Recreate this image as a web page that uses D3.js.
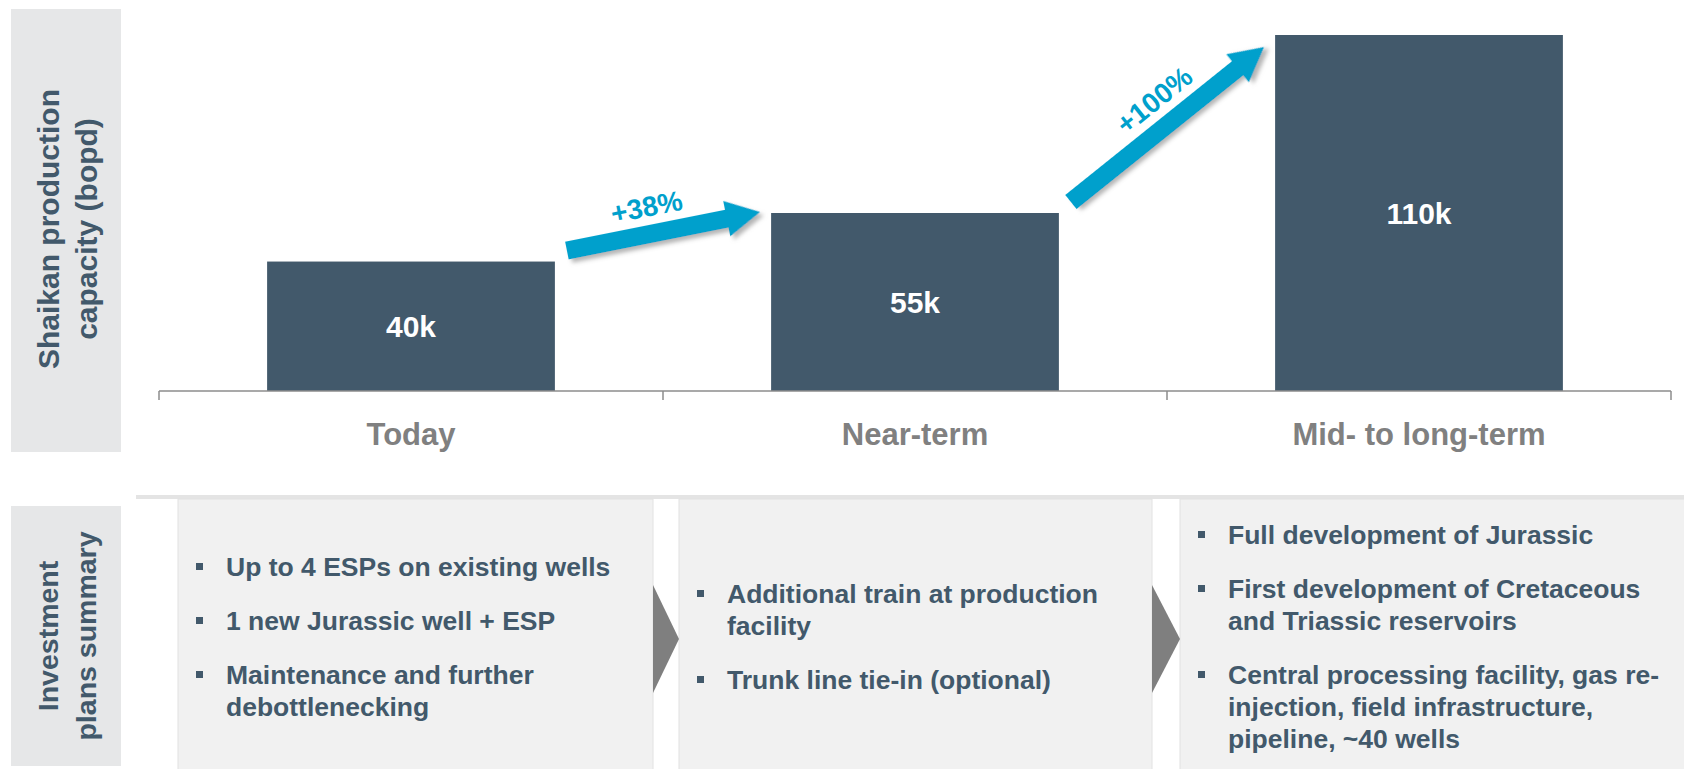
<!DOCTYPE html>
<html>
<head>
<meta charset="utf-8">
<style>
  body { margin: 0; background: #fff; }
  svg { display: block; font-family: "Liberation Sans", Arial, sans-serif; font-weight: bold; }
</style>
</head>
<body>
<svg width="1684" height="769"></svg>
<script src="https://cdn.jsdelivr.net/npm/d3@7"></script>
<script>
// chart values
const categories = ['Today', 'Near-term', 'Mid- to long-term'];
const capacity = [40, 55, 110];
const capacityLabels = ['40k', '55k', '110k'];
const growthLabels = ['+38%', '+100%'];
const yTitle = ['Shaikan production', 'capacity (bopd)'];
const planTitle = ['Investment', 'plans summary'];
const plans = [
  [['Up to 4 ESPs on existing wells'], ['1 new Jurassic well + ESP'], ['Maintenance and further', 'debottlenecking']],
  [['Additional train at production', 'facility'], ['Trunk line tie-in (optional)']],
  [['Full development of Jurassic'], ['First development of Cretaceous', 'and Triassic reservoirs'],
   ['Central processing facility, gas re-', 'injection, field infrastructure,', 'pipeline, ~40 wells']]
];

const barColor = '#42596b';
const arrowColor = '#00a0cc';
const panelGray = '#e6e7e8';

const svg = d3.select('svg');

// shadow for the growth arrows
const defs = svg.append('defs');
defs.append('filter').attr('id', 'shadow')
  .attr('x', '-20%').attr('y', '-50%').attr('width', '140%').attr('height', '200%')
  .append('feDropShadow')
  .attr('dx', 3).attr('dy', 4).attr('stdDeviation', 2)
  .attr('flood-color', '#777').attr('flood-opacity', 0.55);

// scales
const x = d3.scaleBand().domain(categories).range([159, 1671]).padding(0);
const y = d3.scaleLinear().domain([0, 110]).range([391, 35]);
const barW = x.bandwidth() * 0.571;
const barX = d => x(d) + (x.bandwidth() - barW) / 2;

// left title panels
svg.append('rect').attr('x', 11).attr('y', 9).attr('width', 110).attr('height', 443).attr('fill', panelGray);
svg.append('rect').attr('x', 11).attr('y', 506).attr('width', 110).attr('height', 260).attr('fill', panelGray);

function sideTitle(lines, cy, size) {
  svg.append('g').selectAll('text').data(lines).enter().append('text')
    .attr('transform', (d, i) => 'translate(' + (48 + i * 38) + ',' + cy + ') rotate(-90)')
    .attr('text-anchor', 'middle')
    .attr('dominant-baseline', 'central')
    .attr('font-size', size)
    .attr('fill', barColor)
    .text(d => d);
}
sideTitle(yTitle, 229, 30);
sideTitle(planTitle, 636, 28.5);

// bars
const chart = svg.append('g');
chart.selectAll('.bar').data(capacity).enter().append('rect')
  .attr('class', 'bar')
  .attr('x', (d, i) => barX(categories[i]))
  .attr('y', d => y(d))
  .attr('width', barW)
  .attr('height', d => y(0) - y(d))
  .attr('fill', barColor);

chart.selectAll('.val').data(capacity).enter().append('text')
  .attr('class', 'val')
  .attr('x', (d, i) => x(categories[i]) + x.bandwidth() / 2)
  .attr('y', d => (y(d) + y(0)) / 2)
  .attr('dy', '0.36em')
  .attr('text-anchor', 'middle')
  .attr('font-size', 30)
  .attr('fill', '#fff')
  .text((d, i) => capacityLabels[i]);

// x axis with ticks at band edges
const axisG = svg.append('g').attr('stroke', '#8c8c8c').attr('stroke-width', 1.5);
axisG.append('line').attr('x1', 159).attr('x2', 1671).attr('y1', y(0)).attr('y2', y(0));
const edges = categories.map(c => x(c)).concat([x(categories[categories.length - 1]) + x.bandwidth()]);
axisG.selectAll('.tick').data(edges).enter().append('line')
  .attr('x1', d => d).attr('x2', d => d)
  .attr('y1', y(0)).attr('y2', y(0) + 9);

svg.append('g').selectAll('text').data(categories).enter().append('text')
  .attr('x', d => x(d) + x.bandwidth() / 2)
  .attr('y', 445)
  .attr('text-anchor', 'middle')
  .attr('font-size', 31)
  .attr('fill', '#808080')
  .text(d => d);

// growth arrows between bars
const tipDy = [-1, 12];
const labelPos = [0.44, 0.52];
growthLabels.forEach((lab, i) => {
  const x0 = barX(categories[i]) + barW + 12;
  const y0 = y(capacity[i]) - 11;
  const x1 = barX(categories[i + 1]) - 11;
  const y1 = y(capacity[i + 1]) + tipDy[i];
  const len = Math.hypot(x1 - x0, y1 - y0);
  const ang = Math.atan2(y1 - y0, x1 - x0) * 180 / Math.PI;
  const g = svg.append('g').attr('transform', 'translate(' + x0 + ',' + y0 + ') rotate(' + ang + ')');
  const hw = 9, hh = 18, hl = 34;
  g.append('polygon')
    .attr('points', [[0, -hw], [len - hl, -hw], [len - hl, -hh], [len, 0], [len - hl, hh], [len - hl, hw], [0, hw]].join(' '))
    .attr('fill', arrowColor)
    .attr('filter', 'url(#shadow)');
  g.append('text')
    .attr('x', len * labelPos[i])
    .attr('y', -27)
    .attr('text-anchor', 'middle')
    .attr('dominant-baseline', 'central')
    .attr('font-size', 28)
    .attr('fill', arrowColor)
    .text(lab);
});

// investment plans section
svg.append('rect').attr('x', 136).attr('y', 495).attr('width', 1548).attr('height', 4).attr('fill', '#e4e4e4');

const boxX = [178, 679, 1180];
const boxR = [653, 1152, 1690];
const boxTop = 499, boxBottom = 775;
const lineH = 32, gap = 22, textCy = 637;

plans.forEach((items, b) => {
  svg.append('rect')
    .attr('x', boxX[b]).attr('y', boxTop)
    .attr('width', boxR[b] - boxX[b]).attr('height', boxBottom - boxTop)
    .attr('fill', '#f1f1f1').attr('stroke', '#e2e2e2');

  // total height of text block, centered in box
  const nLines = d3.sum(items, d => d.length);
  const total = (nLines - 1) * lineH + (items.length - 1) * gap;
  let cy = textCy - total / 2;
  const g = svg.append('g');
  items.forEach(lines => {
    g.append('rect')
      .attr('x', boxX[b] + 18).attr('y', cy - 4)
      .attr('width', 7).attr('height', 7)
      .attr('fill', barColor);
    lines.forEach((ln, k) => {
      g.append('text')
        .attr('x', boxX[b] + 48)
        .attr('y', cy + k * lineH)
        .attr('dy', '0.35em')
        .attr('font-size', 26.5)
        .attr('fill', barColor)
        .text(ln);
    });
    cy += lines.length * lineH + gap;
  });
});

// chevrons between plan boxes
[0, 1].forEach(i => {
  const xa = boxR[i], xb = boxX[i + 1];
  svg.append('polygon')
    .attr('points', [[xa, 585], [xb, 639], [xa, 693]].join(' '))
    .attr('fill', '#7f7f7f');
});
</script>
</body>
</html>
